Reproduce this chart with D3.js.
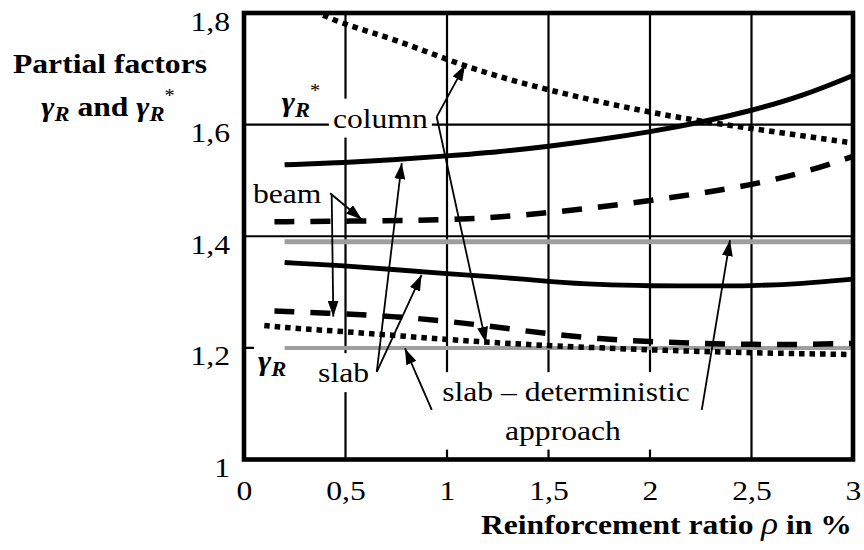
<!DOCTYPE html>
<html>
<head>
<meta charset="utf-8">
<script src="https://cdn.jsdelivr.net/npm/d3@7"></script>
<style>
  body { margin: 0; background: #fff; }
  svg { display: block; }
  text { font-family: "Liberation Serif", "Times New Roman", serif; white-space: pre; }
</style>
</head>
<body>
<div id="chart"></div>
<script>
const width = 864, height = 550;
const plot = {left: 244, right: 853, top: 13, bottom: 459.5};

// axes
const xTicks = [0, 0.5, 1, 1.5, 2, 2.5, 3];
const yTicks = [1, 1.2, 1.4, 1.6, 1.8];
const xGrid = [0.5, 1, 1.5, 2, 2.5];
const yGrid = [1.2, 1.4, 1.6];

// curves, [rho in %, partial factor]
const slabStar = [[0.2, 1.528], [0.5, 1.532], [0.75, 1.537], [1, 1.544], [1.25, 1.551], [1.5, 1.561],
    [1.75, 1.573], [2, 1.587], [2.25, 1.604], [2.5, 1.625], [2.75, 1.651], [3, 1.688]];
const columnStar = [[0.39, 1.796], [0.5, 1.779], [0.75, 1.752], [1, 1.716], [1.25, 1.686], [1.5, 1.662],
    [1.75, 1.641], [2, 1.622], [2.25, 1.606], [2.5, 1.593], [2.75, 1.580], [3, 1.567]];
const beamStar = [[0.15, 1.426], [0.5, 1.427], [1, 1.429], [1.25, 1.434], [1.5, 1.442], [1.75, 1.452],
    [2, 1.464], [2.25, 1.477], [2.5, 1.492], [2.75, 1.513], [3, 1.543]];
const slabR = [[0.2, 1.353], [0.5, 1.347], [0.75, 1.340], [1, 1.333], [1.25, 1.327], [1.5, 1.319],
    [1.75, 1.313], [2, 1.311], [2.25, 1.311], [2.5, 1.311], [2.75, 1.315], [3, 1.323]];
const beamR = [[0.15, 1.266], [0.5, 1.261], [0.75, 1.256], [1, 1.248], [1.25, 1.237], [1.5, 1.225],
    [1.75, 1.216], [2, 1.211], [2.25, 1.208], [2.5, 1.206], [2.75, 1.206], [3, 1.208]];
const columnR = [[0.1, 1.240], [0.25, 1.235], [0.5, 1.229], [0.75, 1.222], [1, 1.215], [1.25, 1.209],
    [1.5, 1.204], [2, 1.196], [2.5, 1.191], [3, 1.188]];
const detStar = [[0.2, 1.39], [3, 1.39]];
const detR = [[0.2, 1.2], [3, 1.2]];

// annotation arrows [x1, y1, x2 (tip), y2 (tip)]
const arrows = [
    [0.949, 1.614, 1.089, 1.707],
    [0.949, 1.614, 1.192, 1.209],
    [0.654, 1.157, 0.777, 1.531],
    [0.654, 1.157, 0.875, 1.331],
    [0.424, 1.477, 0.580, 1.430],
    [0.432, 1.474, 0.440, 1.256],
    [0.925, 1.089, 0.793, 1.199],
    [2.255, 1.089, 2.394, 1.393]
];

const notes = [
    {text: "column", x: 0.438, y: 1.594, anchor: "start", box: "column"},
    {text: "beam", x: 0.044, y: 1.460, anchor: "start", box: null},
    {text: "slab", x: 0.365, y: 1.138, anchor: "start", box: "slab"},
    {text: "slab – deterministic", x: 1.586, y: 1.104, anchor: "middle", box: "det"},
    {text: "approach", x: 1.571, y: 1.035, anchor: "middle", box: "det"}
];

const SX = 1.13; // the original type is a bit wide

const x = d3.scaleLinear().domain([0, 3]).range([plot.left, plot.right]);
const y = d3.scaleLinear().domain([1, 1.8]).range([plot.bottom, plot.top]);

const fmt = d3.formatLocale({decimal: ",", thousands: ".", grouping: [3], currency: ["", ""]}).format(".1~f");

const svg = d3.select("#chart").append("svg")
    .attr("width", width)
    .attr("height", height);

svg.append("rect").attr("width", width).attr("height", height).attr("fill", "#fff");

const defs = svg.append("defs");
defs.append("marker")
    .attr("id", "head")
    .attr("viewBox", "0 0 10 10")
    .attr("refX", 10).attr("refY", 5)
    .attr("markerWidth", 16).attr("markerHeight", 11)
    .attr("markerUnits", "userSpaceOnUse")
    .attr("preserveAspectRatio", "none")
    .attr("orient", "auto")
  .append("path")
    .attr("d", "M0,0L10,5L0,10Z")
    .attr("fill", "#000");

// grid
const grid = svg.append("g").attr("stroke", "#000").attr("stroke-width", 2.2);
grid.selectAll(".gx").data(xGrid).enter().append("line")
    .attr("x1", d => x(d)).attr("x2", d => x(d))
    .attr("y1", y(1)).attr("y2", y(1.8));
grid.selectAll(".gy").data(yGrid).enter().append("line")
    .attr("y1", d => y(d)).attr("y2", d => y(d))
    .attr("x1", x(0)).attr("x2", x(3));

const boxLayer = svg.append("g").attr("fill", "#fff");
const curveLayer = svg.append("g");
const arrowLayer = svg.append("g");
const frameLayer = svg.append("g");
const textLayer = svg.append("g");

const line = d3.line().x(d => x(d[0])).y(d => y(d[1])).curve(d3.curveBasis);

// deterministic approach (grey)
curveLayer.selectAll(".det").data([detStar, detR]).enter().append("path")
    .attr("d", line)
    .attr("fill", "none")
    .attr("stroke", "#9e9e9e")
    .attr("stroke-width", (d, i) => i === 0 ? 5 : 4);

const series = [
    {values: slabStar, dash: null, w: 5},
    {values: slabR, dash: null, w: 4.8},
    {values: beamStar, dash: "20,16", w: 5.5},
    {values: beamR, dash: "20,16", w: 5.5},
    {values: columnStar, dash: "5.5,5", w: 5.5},
    {values: columnR, dash: "5.5,5", w: 5.5}
];

curveLayer.selectAll(".curve").data(series).enter().append("path")
    .attr("d", d => line(d.values))
    .attr("fill", "none")
    .attr("stroke", "#000")
    .attr("stroke-width", d => d.w)
    .attr("stroke-dasharray", d => d.dash);

arrowLayer.selectAll("line").data(arrows).enter().append("line")
    .attr("x1", d => x(d[0])).attr("y1", d => y(d[1]))
    .attr("x2", d => x(d[2])).attr("y2", d => y(d[3]))
    .attr("stroke", "#000")
    .attr("stroke-width", 1.8)
    .attr("marker-end", "url(#head)");

// frame
frameLayer.append("rect")
    .attr("x", x(0)).attr("y", y(1.8))
    .attr("width", x(3) - x(0)).attr("height", y(1) - y(1.8))
    .attr("fill", "none")
    .attr("stroke", "#000")
    .attr("stroke-width", 4.6);

// tick labels
const xAxis = textLayer.append("g")
    .attr("transform", "translate(0,500)")
    .call(d3.axisBottom(x).tickValues(xTicks).tickFormat(fmt).tickSize(0).tickPadding(0));
xAxis.select(".domain").remove();
xAxis.selectAll("text")
    .attr("y", 0).attr("dy", 0)
    .attr("transform", `scale(${SX},1)`)
    .attr("fill", "#000")
    .style("font-family", "'Liberation Serif', serif")
    .style("font-size", "28px");

const yAxis = textLayer.append("g")
    .attr("transform", "translate(230,0)")
    .call(d3.axisLeft(y).tickValues(yTicks).tickFormat(fmt).tickSize(0).tickPadding(0));
yAxis.select(".domain").remove();
yAxis.selectAll("text")
    .attr("x", 0).attr("dy", 17)
    .attr("transform", `scale(${SX},1)`)
    .attr("fill", "#000")
    .style("font-family", "'Liberation Serif', serif")
    .style("font-size", "28px");

function label(px, py, anchor, size, weight) {
    return textLayer.append("text")
        .attr("transform", `translate(${px},${py}) scale(${SX},1)`)
        .attr("text-anchor", anchor)
        .style("font-size", size + "px")
        .style("font-weight", weight || "normal");
}

function gammaR(t, sub, star) {
    t.append("tspan").text("γ").style("font-style", "italic").style("font-weight", "bold");
    t.append("tspan").attr("dy", sub).text("R")
        .style("font-style", "italic").style("font-weight", "bold").style("font-size", "20px");
    if (star) t.append("tspan").attr("dy", -sub - 14).text("*")
        .style("font-size", "18px").style("font-weight", "normal");
}

// annotations with white boxes behind
const boxes = {};
notes.forEach(n => {
    const px = x(n.x), py = y(n.y);
    const t = label(px, py, n.anchor, 28).text(n.text);
    if (!n.box) return;
    const b = t.node().getBBox();
    const r = {x0: px + b.x * SX, x1: px + (b.x + b.width) * SX, y0: py + b.y, y1: py + b.y + b.height};
    const o = boxes[n.box];
    boxes[n.box] = o ? {x0: Math.min(o.x0, r.x0), x1: Math.max(o.x1, r.x1), y0: Math.min(o.y0, r.y0), y1: Math.max(o.y1, r.y1)} : r;
});

// gamma labels inside the plot
const gStar = label(x(0.186), y(1.625), "start", 28);
gammaR(gStar, 6, true);

const gR = label(x(0.069), y(1.160), "start", 28);
gammaR(gR, 6, false);
{
    const b = gR.node().getBBox();
    boxes.gR = {x0: x(0.069) + b.x * SX, x1: x(0.069) + (b.x + b.width) * SX, y0: y(1.160) + b.y, y1: y(1.160) + b.y + b.height};
}

const pad = 4;
boxLayer.selectAll("rect").data(Object.values(boxes)).enter().append("rect")
    .attr("x", d => d.x0 - pad)
    .attr("y", d => d.y0 - pad)
    .attr("width", d => d.x1 - d.x0 + 2 * pad)
    .attr("height", d => d.y1 - d.y0 + 2 * pad);

// axis titles
label(110, 73, "middle", 28, "bold").text("Partial factors");
const t2 = label(108, 116, "middle", 28, "bold");
t2.append("tspan").text("γ").style("font-style", "italic");
t2.append("tspan").attr("dy", 5).text("R").style("font-style", "italic").style("font-size", "20px");
t2.append("tspan").attr("dy", -5).text(" and ");
t2.append("tspan").text("γ").style("font-style", "italic");
t2.append("tspan").attr("dy", 5).text("R").style("font-style", "italic").style("font-size", "20px");
t2.append("tspan").attr("dy", -19).text("*").style("font-size", "18px").style("font-weight", "normal");

const xt = label(852, 534, "end", 28, "bold");
xt.append("tspan").text("Reinforcement ratio ");
xt.append("tspan").text("ρ").style("font-style", "italic").style("font-weight", "normal").style("font-size", "31px");
xt.append("tspan").text(" in %");
</script>
</body>
</html>
